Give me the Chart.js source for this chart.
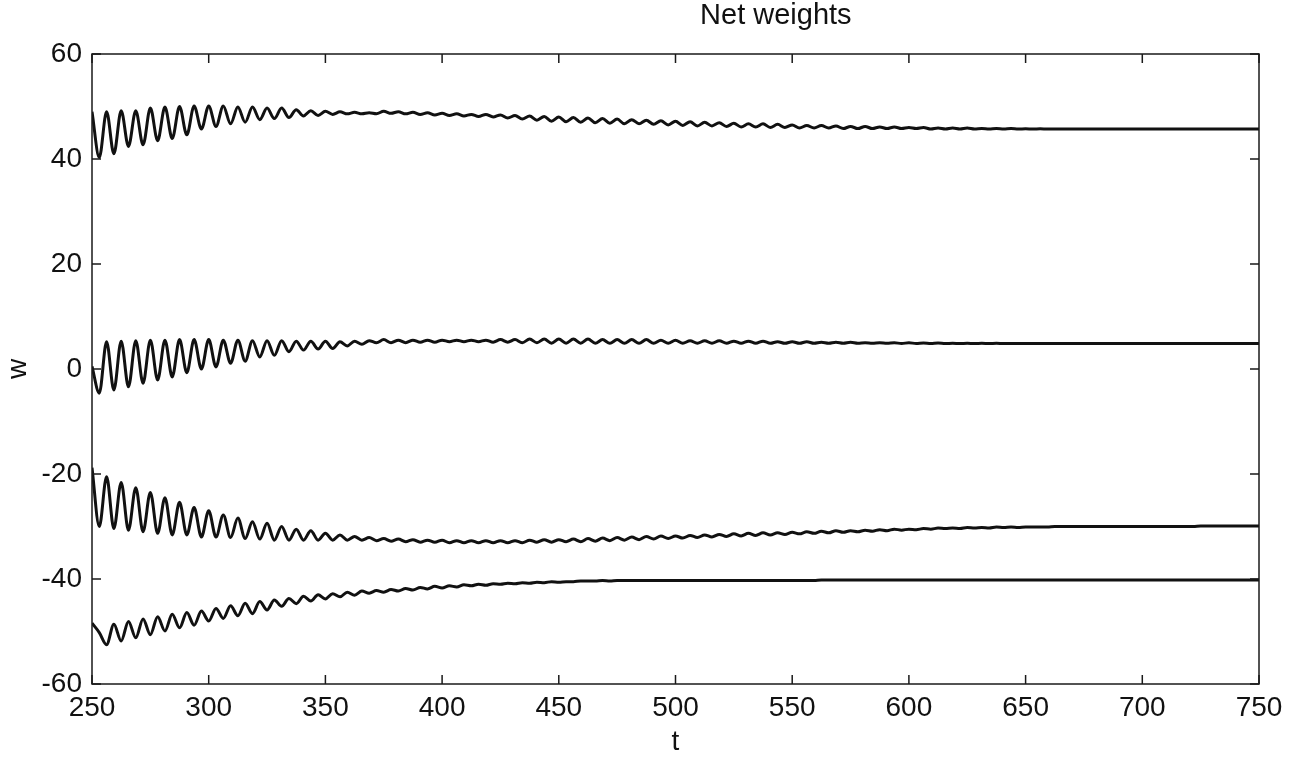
<!DOCTYPE html>
<html>
<head>
<meta charset="utf-8">
<title>Net weights</title>
<script src="https://cdn.jsdelivr.net/npm/chart.js@4.4.0/dist/chart.umd.min.js"></script>
<style>
  html, body { margin: 0; padding: 0; background: #fff; }
</style>
</head>
<body>
<canvas id="myChart" width="1306" height="759"></canvas>
<script>
// samples every half period (t = 250, 253.125, ... 750)
const tStart = 250
const tStep = 3.125

const xTicks = [250, 300, 350, 400, 450, 500, 550, 600, 650, 700, 750]
const yTicks = [-60, -40, -20, 0, 20, 40, 60]
const chartTitle = 'Net weights'

const w1 = [
  49.0, 40.3, 49.0, 41.0, 49.2, 42.4, 49.2, 42.7, 49.7, 43.5,
  49.9, 43.9, 50.0, 44.6, 50.1, 45.7, 50.1, 46.2, 50.1, 46.7,
  49.9, 47.0, 49.9, 47.5, 49.7, 47.7, 49.7, 47.9, 49.4, 48.2,
  49.2, 48.3, 49.1, 48.5, 49.0, 48.6, 48.9, 48.6, 48.8, 48.6,
  49.1, 48.7, 49.0, 48.6, 48.9, 48.5, 48.8, 48.4, 48.7, 48.3,
  48.6, 48.2, 48.5, 48.1, 48.5, 48.0, 48.4, 47.8, 48.3, 47.6,
  48.2, 47.4, 48.1, 47.2, 48.0, 47.1, 47.9, 47.0, 47.8, 46.9,
  47.7, 46.8, 47.6, 46.7, 47.5, 46.7, 47.4, 46.6, 47.3, 46.5,
  47.2, 46.4, 47.1, 46.3, 47.0, 46.3, 46.9, 46.2, 46.8, 46.1,
  46.7, 46.1, 46.7, 46.0, 46.6, 46.0, 46.5, 45.9, 46.4, 45.9,
  46.4, 45.9, 46.3, 45.8, 46.2, 45.8, 46.2, 45.8, 46.1, 45.8,
  46.1, 45.8, 46.0, 45.8, 46.0, 45.7, 45.9, 45.7, 45.9, 45.7,
  45.9, 45.7, 45.8, 45.7, 45.8, 45.7, 45.8, 45.7, 45.75, 45.7,
  45.75, 45.7, 45.7, 45.7, 45.7, 45.7, 45.7, 45.7, 45.7, 45.7,
  45.7, 45.7, 45.7, 45.7, 45.7, 45.7, 45.7, 45.7, 45.7, 45.7,
  45.7, 45.7, 45.7, 45.7, 45.7, 45.7, 45.7, 45.7, 45.7, 45.7,
  45.7
]

const w2 = [
  0.5, -4.6, 5.2, -4.0, 5.3, -3.4, 5.4, -2.7, 5.5, -2.1,
  5.5, -1.5, 5.6, -0.7, 5.6, 0.0, 5.6, 0.4, 5.5, 1.1,
  5.5, 1.5, 5.4, 2.3, 5.4, 2.6, 5.4, 3.3, 5.3, 3.6,
  5.3, 3.8, 5.3, 3.9, 5.2, 4.4, 5.3, 4.7, 5.4, 5.0,
  5.6, 5.0, 5.5, 5.0, 5.5, 5.1, 5.5, 5.1, 5.5, 5.2,
  5.5, 5.2, 5.5, 5.2, 5.5, 5.1, 5.6, 5.1, 5.6, 5.0,
  5.7, 5.0, 5.7, 4.9, 5.7, 4.9, 5.7, 4.9, 5.7, 4.9,
  5.6, 4.9, 5.6, 4.9, 5.6, 4.9, 5.6, 4.9, 5.5, 4.9,
  5.5, 4.9, 5.4, 4.9, 5.4, 4.9, 5.4, 4.9, 5.3, 4.9,
  5.3, 4.9, 5.3, 4.9, 5.2, 4.9, 5.2, 4.9, 5.2, 4.9,
  5.1, 4.9, 5.1, 4.9, 5.1, 4.9, 5.0, 4.9, 5.0, 4.9,
  5.0, 4.85, 5.0, 4.85, 4.95, 4.85, 4.95, 4.85, 4.9, 4.85,
  4.9, 4.85, 4.9, 4.85, 4.9, 4.85, 4.85, 4.85, 4.85, 4.85,
  4.85, 4.85, 4.85, 4.85, 4.85, 4.85, 4.85, 4.85, 4.85, 4.85,
  4.85, 4.85, 4.85, 4.85, 4.85, 4.85, 4.85, 4.85, 4.85, 4.85,
  4.85, 4.85, 4.85, 4.85, 4.85, 4.85, 4.85, 4.85, 4.85, 4.85,
  4.85
]

const w3 = [
  -18.8, -30.0, -20.5, -30.4, -21.6, -30.7, -22.6, -31.0, -23.5, -31.3,
  -24.5, -31.6, -25.4, -31.6, -26.4, -32.0, -27.0, -32.0, -27.8, -32.1,
  -28.4, -32.3, -29.1, -32.4, -29.4, -32.6, -30.0, -32.6, -30.5, -32.6,
  -30.8, -32.6, -31.3, -32.6, -31.6, -32.6, -31.9, -32.6, -32.1, -32.7,
  -32.3, -32.8, -32.4, -32.9, -32.5, -33.0, -32.6, -33.0, -32.6, -33.1,
  -32.7, -33.1, -32.7, -33.1, -32.7, -33.1, -32.7, -33.1, -32.7, -33.1,
  -32.6, -33.0, -32.5, -33.0, -32.5, -32.9, -32.4, -32.9, -32.3, -32.8,
  -32.2, -32.7, -32.1, -32.6, -32.0, -32.5, -31.9, -32.4, -31.8, -32.3,
  -31.8, -32.2, -31.7, -32.1, -31.6, -32.0, -31.5, -31.9, -31.4, -31.8,
  -31.3, -31.7, -31.2, -31.6, -31.2, -31.5, -31.1, -31.4, -31.0, -31.3,
  -30.9, -31.2, -30.8, -31.1, -30.8, -31.0, -30.7, -30.9, -30.6, -30.8,
  -30.5, -30.7, -30.5, -30.6, -30.4, -30.5, -30.3, -30.4, -30.3, -30.4,
  -30.2, -30.3, -30.2, -30.3, -30.1, -30.2, -30.1, -30.2, -30.1, -30.1,
  -30.1, -30.1, -30.0, -30.0, -30.0, -30.0, -30.0, -30.0, -30.0, -30.0,
  -30.0, -30.0, -30.0, -30.0, -30.0, -30.0, -30.0, -30.0, -30.0, -30.0,
  -30.0, -30.0, -29.9, -29.9, -29.9, -29.9, -29.9, -29.9, -29.9, -29.9,
  -29.9
]

const w4 = [
  -48.4, -50.2, -52.5, -48.6, -51.8, -48.1, -51.2, -47.6, -50.6, -47.2,
  -49.9, -46.7, -49.3, -46.4, -48.8, -46.1, -48.0, -45.6, -47.5, -45.1,
  -47.0, -44.6, -46.6, -44.3, -45.9, -44.0, -45.2, -43.7, -44.7, -43.3,
  -44.2, -43.0, -43.8, -42.8, -43.4, -42.5, -43.1, -42.3, -42.7, -42.2,
  -42.5, -42.0, -42.3, -41.8, -42.1, -41.6, -41.9, -41.4, -41.7, -41.3,
  -41.5, -41.1, -41.3, -41.0, -41.2, -40.9, -41.0, -40.8, -40.9, -40.7,
  -40.8, -40.6, -40.7, -40.5, -40.6, -40.5, -40.5, -40.4, -40.4, -40.4,
  -40.3, -40.4, -40.3, -40.3, -40.3, -40.3, -40.3, -40.3, -40.3, -40.3,
  -40.3, -40.3, -40.3, -40.3, -40.3, -40.3, -40.3, -40.3, -40.3, -40.3,
  -40.3, -40.3, -40.3, -40.3, -40.3, -40.3, -40.3, -40.3, -40.3, -40.3,
  -40.2, -40.2, -40.2, -40.2, -40.2, -40.2, -40.2, -40.2, -40.2, -40.2,
  -40.2, -40.2, -40.2, -40.2, -40.2, -40.2, -40.2, -40.2, -40.2, -40.2,
  -40.2, -40.2, -40.2, -40.2, -40.2, -40.2, -40.2, -40.2, -40.2, -40.2,
  -40.2, -40.2, -40.2, -40.2, -40.2, -40.2, -40.2, -40.2, -40.2, -40.2,
  -40.2, -40.2, -40.2, -40.2, -40.2, -40.2, -40.2, -40.2, -40.2, -40.2,
  -40.2, -40.2, -40.2, -40.2, -40.2, -40.2, -40.2, -40.2, -40.2, -40.2,
  -40.2
]

function toPoints(values) {
  return values.map((v, i) => ({ x: tStart + i * tStep, y: v }))
}

const font = "'Liberation Sans', Arial, Helvetica, sans-serif"

// matlab style box with the ticks pointing inwards, plus the title
// (the title sits right of the plot centre in the scan, so it is drawn here)
const matlabBox = {
  id: 'matlabBox',
  afterDatasetsDraw(chart) {
    const { ctx, chartArea: area, scales } = chart
    const len = 9
    ctx.save()
    ctx.strokeStyle = '#1a1a1a'
    ctx.lineWidth = 1.5
    ctx.strokeRect(area.left, area.top, area.right - area.left, area.bottom - area.top)
    ctx.beginPath()
    xTicks.forEach(t => {
      const px = scales.x.getPixelForValue(t)
      ctx.moveTo(px, area.bottom)
      ctx.lineTo(px, area.bottom - len)
      ctx.moveTo(px, area.top)
      ctx.lineTo(px, area.top + len)
    })
    yTicks.forEach(t => {
      const py = scales.y.getPixelForValue(t)
      ctx.moveTo(area.left, py)
      ctx.lineTo(area.left + len, py)
      ctx.moveTo(area.right, py)
      ctx.lineTo(area.right - len, py)
    })
    ctx.stroke()

    ctx.fillStyle = '#111'
    ctx.font = '29px ' + font
    ctx.textAlign = 'center'
    ctx.textBaseline = 'middle'
    ctx.fillText(chartTitle, scales.x.getPixelForValue(543), 16)
    ctx.restore()
  }
}

const lineStyle = {
  borderColor: '#111',
  borderWidth: 3,
  pointRadius: 0,
  fill: false,
  cubicInterpolationMode: 'monotone'
}

const ctx = document.getElementById('myChart')
new Chart(ctx, {
  type: 'line',
  data: {
    datasets: [
      { label: 'w1', data: toPoints(w1), ...lineStyle },
      { label: 'w2', data: toPoints(w2), ...lineStyle },
      { label: 'w3', data: toPoints(w3), ...lineStyle },
      { label: 'w4', data: toPoints(w4), ...lineStyle }
    ]
  },
  options: {
    responsive: false,
    animation: false,
    devicePixelRatio: 1,
    layout: { padding: { left: 0, right: 47, top: 54, bottom: 0 } },
    plugins: {
      legend: { display: false },
      tooltip: { enabled: false },
      title: { display: false }
    },
    scales: {
      x: {
        type: 'linear',
        min: 250,
        max: 750,
        afterBuildTicks: axis => { axis.ticks = xTicks.map(v => ({ value: v })) },
        afterFit: axis => { axis.height = 75 },
        grid: { display: false, drawTicks: false },
        border: { display: false },
        ticks: { color: '#111', padding: 7, maxRotation: 0, font: { family: font, size: 28 } },
        title: { display: true, text: 't', color: '#111', padding: { top: 0, bottom: 0 }, font: { family: font, size: 28 } }
      },
      y: {
        type: 'linear',
        min: -60,
        max: 60,
        afterBuildTicks: axis => { axis.ticks = yTicks.map(v => ({ value: v })) },
        afterFit: axis => { axis.width = 92 },
        grid: { display: false, drawTicks: false },
        border: { display: false },
        ticks: { color: '#111', padding: 10, font: { family: font, size: 28 } },
        title: { display: true, text: 'w', color: '#111', padding: { top: 1, bottom: 0 }, font: { family: font, size: 28 } }
      }
    }
  },
  plugins: [matlabBox]
})
</script>
</body>
</html>
